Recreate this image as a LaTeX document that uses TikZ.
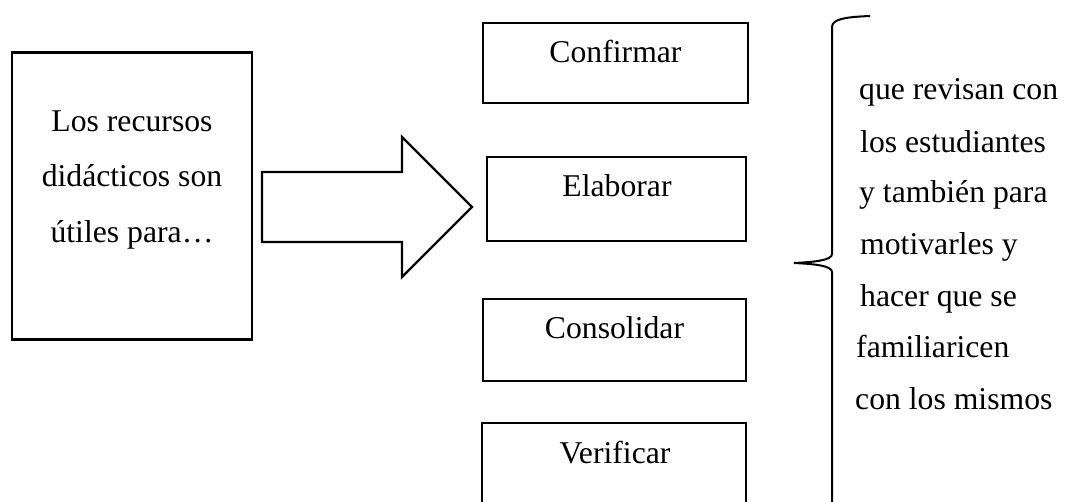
\documentclass[tikz,border=0pt]{standalone}
\usepackage{fontspec}
\setmainfont{Liberation Serif}
\begin{document}
\begin{tikzpicture}[x=1pt,y=-1pt,
  txt/.style={inner sep=0pt,font=\fontsize{31.7}{38}\selectfont},
  bx/.style={draw,line width=1.5pt,inner sep=0pt},
  bigbx/.style={draw,line width=2.8pt,inner sep=0pt}]
\useasboundingbox (0,0) rectangle (1065,502);
% left box
\node[bigbx,minimum width=240,minimum height=287] (lb) at (132,196) {};
\node[txt,anchor=base] (l1) at (132,132) {Los recursos};
\node[txt,anchor=base] (l2) at (132,187) {didácticos son};
\node[txt,anchor=base] (l3) at (132,243) {útiles para…};
% block arrow
\draw[line width=2.3pt,line join=miter] (262,172) -- (402,172) -- (402,137) -- (472,207) -- (402,277) -- (402,242) -- (262,242) -- cycle;
% right boxes
\node[bx,minimum width=265,minimum height=80] (b1) at (615.5,63) {};
\node[txt,anchor=base] (t1) at (615.5,63) {Confirmar};
\node[bx,minimum width=259,minimum height=84] (b2) at (616.5,199) {};
\node[txt,anchor=base] (t2) at (617,197) {Elaborar};
\node[bx,minimum width=263,minimum height=82] (b3) at (614.5,340) {};
\node[txt,anchor=base] (t3) at (614.5,339) {Consolidar};
\node[bx,minimum width=264,minimum height=80] (b4) at (614,463) {};
\node[txt,anchor=base] (t4) at (615,463) {Verificar};
% brace
\draw[line width=2pt] (870,16) .. controls (846,17) and (832,19) .. (832,27) -- (832,254)
  .. controls (832,260) and (816,262) .. (794,263)
  .. controls (816,264) and (832,266) .. (832,272) -- (832,502);
% right text
\node[txt,anchor=base west] (r1) at (859,100) {que revisan con};
\node[txt,anchor=base west] (r2) at (860,153) {los estudiantes};
\node[txt,anchor=base west] (r3) at (859,203) {y también para};
\node[txt,anchor=base west] (r4) at (860,255) {motivarles y};
\node[txt,anchor=base west] (r5) at (860,307) {hacer que se};
\node[txt,anchor=base west] (r6) at (856,358) {familiaricen};
\node[txt,anchor=base west] (r7) at (855,409) {con los mismos};
\end{tikzpicture}
\end{document}
